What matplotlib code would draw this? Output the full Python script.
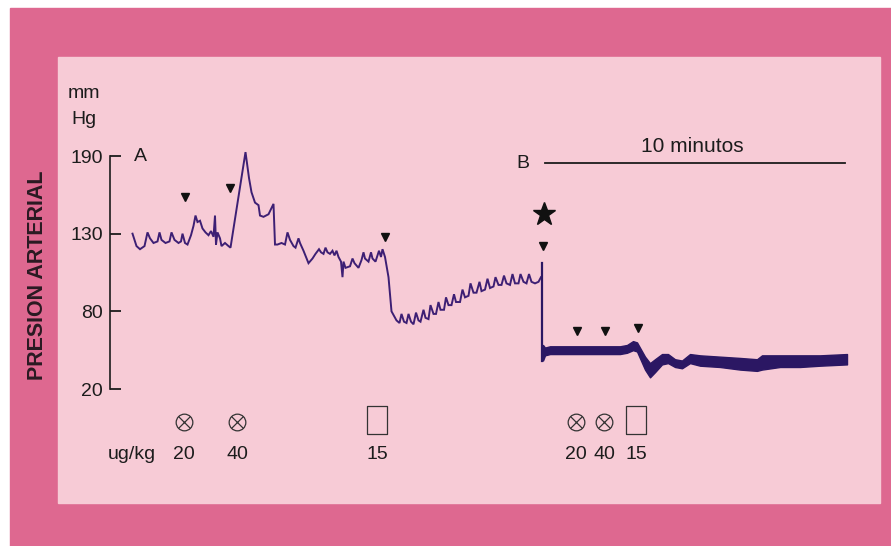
import numpy as np
import matplotlib
matplotlib.use("Agg")
import matplotlib.pyplot as plt
import matplotlib.transforms as mtransforms
from matplotlib.patches import Rectangle

plt.rcParams["font.family"] = ["Liberation Sans", "DejaVu Sans"]

W, H = 891, 546

# Trace A: time (s) and arterial pressure (mmHg)
a_t = [45, 53, 60, 69, 75, 80, 87, 95, 99, 103,
       111, 119, 123, 129, 137, 142, 145, 150, 155, 162,
       167, 171, 175, 180, 185, 191, 197, 202, 207, 210,
       212, 215, 220, 223, 230, 237, 241, 271, 278, 283,
       290, 297, 300, 307, 317, 327, 330, 335, 343, 350,
       355, 360, 367, 371, 377, 380, 387, 397, 405, 411,
       418, 422, 427, 431, 435, 440, 445, 449, 453, 457,
       462, 465, 467, 471, 480, 485, 489, 497, 503, 507,
       510, 517, 522, 525, 531, 538, 542, 545, 550, 557,
       563, 573, 579, 583, 588, 593, 597, 602, 607, 612,
       617, 621, 627, 631, 637, 641, 647, 652, 657, 661,
       668, 672, 677, 683, 688, 692, 700, 705, 710, 717,
       721, 727, 733, 739, 743, 750, 755, 760, 767, 771,
       777, 783, 788, 793, 800, 805, 810, 817, 821, 827,
       833, 838, 843, 850, 857, 862]
a_p = [130, 122, 120, 122, 131, 127, 124, 125, 131, 126,
       124, 125, 131, 126, 124, 125, 130, 124, 123, 129,
       136, 144, 139, 140, 134, 131, 129, 132, 128, 144,
       123, 131, 127, 122, 124, 122, 121, 193, 173, 162,
       154, 152, 144, 143, 145, 153, 123, 123, 124, 123,
       131, 126, 122, 121, 127, 124, 119, 111, 114, 117,
       120, 118, 117, 121, 118, 117, 119, 116, 119, 115,
       112, 102, 112, 108, 109, 114, 111, 108, 113, 118,
       114, 112, 118, 114, 112, 119, 115, 120, 115, 102,
       80, 73, 71, 78, 72, 71, 78, 72, 70, 79,
       73, 72, 81, 75, 74, 84, 78, 78, 86, 81,
       81, 89, 84, 84, 91, 86, 86, 94, 89, 90,
       98, 92, 92, 99, 93, 94, 101, 95, 96, 102,
       97, 97, 103, 98, 97, 104, 98, 98, 104, 99,
       98, 104, 99, 98, 99, 102]

# Trace B: drop after the star, then a thick band (upper / lower edge)
b_drop_t = 864
b_drop_p = [111, 42]
b_t = [866, 870, 880, 920, 980, 1020, 1034, 1046, 1054, 1070,
       1080, 1090, 1104, 1116, 1130, 1144, 1160, 1180, 1220, 1260,
       1294, 1304, 1340, 1380, 1420, 1474]
b_top = [54, 52, 53, 53, 53, 53, 54, 57, 56, 45,
         40, 43, 47, 47, 43, 42, 47, 46, 45, 44,
         43, 46, 46, 46, 46, 47]
b_bot = [42, 46, 47, 47, 47, 47, 48, 50, 49, 35,
         29, 33, 39, 40, 37, 36, 40, 38, 37, 35,
         34, 35, 37, 37, 38, 39]

# injection marks
arrow_t = [150, 239, 550, 865, 933, 989, 1055]
arrow_p = [158, 165, 128, 122, 65, 65, 67]
star_t, star_p = 867, 145

dose_t = [148, 254, 534, 932, 988, 1052]
dose_lbl = ["20", "40", "15", "20", "40", "15"]
dose_kind = ["x", "x", "box", "x", "x", "box"]

y_ticks = [20, 80, 130, 190]
scale_t0, scale_len = 870, 600  # 10 minutes
scale_p = 184.5

# the paper scale is not linear: ticks are equally spaced
_p = [-100, 20, 80, 130, 190, 400]
_v = [-2, 0, 1, 2, 3, 6.5]


def fwd(p):
    return np.interp(p, _p, _v)


def inv(v):
    return np.interp(v, _v, _p)


outer = "#de6890"
inner = "#f7cbd6"
ink = "#1c1c1c"
trace = "#3d1f74"
trace_b = "#2b1763"

fig = plt.figure(figsize=(W / 100, H / 100), dpi=100)
fig.patch.set_facecolor("white")
fig.add_artist(Rectangle((10 / W, 0), (W - 10) / W, (H - 8) / H,
                         transform=fig.transFigure, color=outer, zorder=-10))
fig.add_artist(Rectangle((58 / W, 1 - 503 / H), (880 - 58) / W, (503 - 57) / H,
                         transform=fig.transFigure, color=inner, zorder=-9))

ax = fig.add_axes([110 / W, 1 - 389 / H, (880 - 110) / W, (389 - 156) / H])
ax.set_facecolor("none")
ax.set_yscale("function", functions=(fwd, inv))
ax.set_ylim(20, 190)
ax.set_xlim(0, 1540)

for s in ["top", "right", "bottom"]:
    ax.spines[s].set_visible(False)
ax.spines["left"].set_linewidth(1.2)
ax.spines["left"].set_color(ink)
ax.set_xticks([])
ax.set_yticks(y_ticks)
ax.set_yticklabels([str(v) for v in y_ticks])
ax.tick_params(axis="y", direction="in", length=8, width=1.3, color=ink,
               labelsize=14, labelcolor=ink, pad=5)

ax.plot(a_t, a_p, color=trace, lw=1.4, clip_on=False, solid_joinstyle="miter")
ax.plot([b_drop_t, b_drop_t], b_drop_p, color=trace_b, lw=1.6, clip_on=False)
ax.fill_between(b_t, b_bot, b_top, color=trace_b, lw=1.0, clip_on=False)

ax.plot(arrow_t, arrow_p, "v", color="#111111", ms=6, clip_on=False)
ax.plot([star_t], [star_p], "*", color="#111111", ms=17, clip_on=False)

ax.text(61, 190, "A", ha="center", va="center", fontsize=14, color=ink)
ax.text(826, scale_p, "B", ha="center", va="center", fontsize=14, color=ink)
ax.plot([scale_t0, scale_t0 + scale_len], [scale_p, scale_p], color=ink, lw=1.3,
        clip_on=False)
ax.text(scale_t0 + scale_len * 0.49, 197, "10 minutos", ha="center", va="center",
        fontsize=15, color=ink)

# dose symbols and labels under the trace
trans = mtransforms.blended_transform_factory(ax.transData, ax.transAxes)
box = [(-0.72, -1), (0.72, -1), (0.72, 1), (-0.72, 1), (-0.72, -1)]
for t, lbl, kind in zip(dose_t, dose_lbl, dose_kind):
    if kind == "x":
        ax.plot([t], [-0.142], "o", ms=12, mfc="none", mec="#333333", mew=0.9,
                transform=trans, clip_on=False)
        ax.plot([t], [-0.142], "x", ms=8, mec="#333333", mew=0.9,
                transform=trans, clip_on=False)
    else:
        ax.plot([t], [-0.135], marker=box, ms=20, mfc="none", mec="#333333",
                mew=0.9, transform=trans, clip_on=False)
    ax.text(t, -0.283, lbl, transform=trans, ha="center", va="center",
            fontsize=14, color=ink)
ax.text(44, -0.283, "ug/kg", transform=trans, ha="center", va="center",
        fontsize=14, color=ink)

fig.text(84 / W, 1 - 93 / H, "mm", ha="center", va="center", fontsize=14, color=ink)
fig.text(84 / W, 1 - 120 / H, "Hg", ha="center", va="center", fontsize=14, color=ink)
fig.text(37.5 / W, 1 - 275 / H, "PRESION ARTERIAL", rotation=90, ha="center",
         va="center", fontsize=15.5, fontweight="bold", color="#2a1a22")

fig.savefig("out.png", dpi=100)
